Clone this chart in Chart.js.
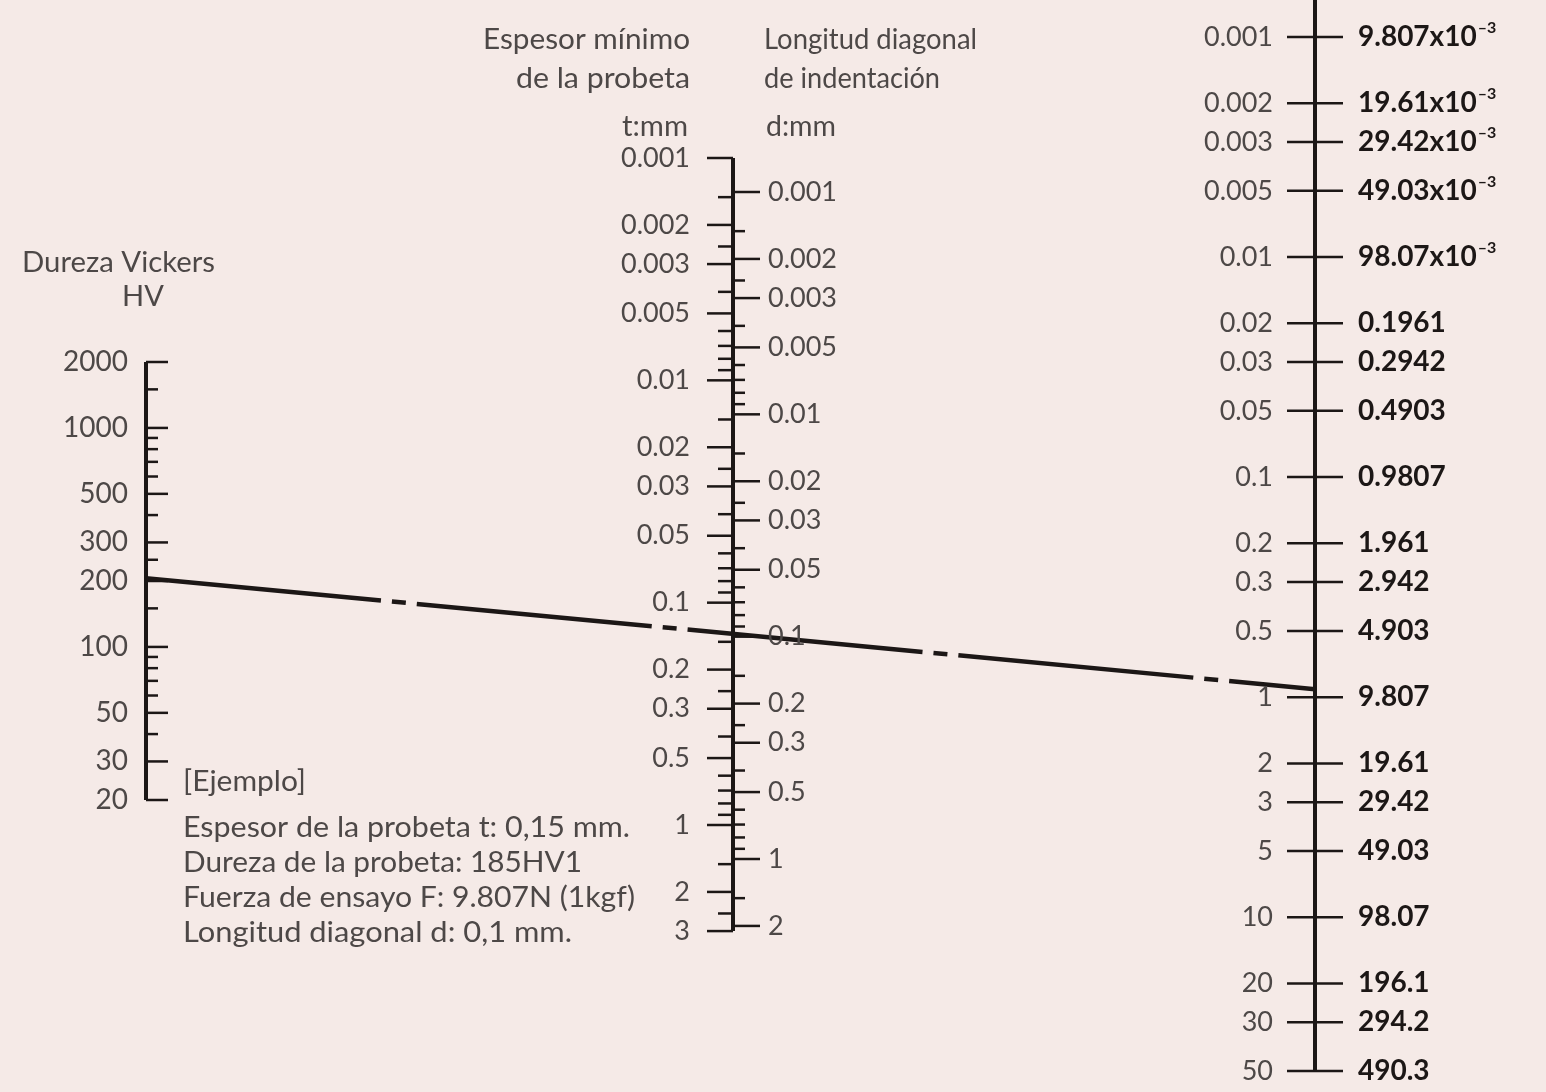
<!DOCTYPE html>
<html>
<head>
<meta charset="utf-8">
<script src="https://cdn.jsdelivr.net/npm/chart.js@4/dist/chart.umd.min.js"></script>
<style>
  html, body { margin: 0; padding: 0; background: #f5eae7; }
</style>
</head>
<body>
<canvas id="nomo" width="1546" height="1092"></canvas>
<script>
// Vickers nomogram: hardness HV / min. thickness t + diagonal d / test force F

const hvMajor = [2000, 1000, 500, 300, 200, 100, 50, 30, 20];
const hvMinor = [1500, 900, 800, 700, 600, 400, 250, 150, 90, 80, 70, 60, 40];

const tMajor = [0.001, 0.002, 0.003, 0.005, 0.01, 0.02, 0.03, 0.05, 0.1, 0.2, 0.3, 0.5, 1, 2, 3];
const tMinor = [0.0015, 0.0025, 0.004, 0.006, 0.007, 0.008, 0.009, 0.015, 0.025, 0.04, 0.06, 0.07, 0.08, 0.09,
  0.15, 0.25, 0.4, 0.6, 0.7, 0.8, 0.9, 1.5, 2.5];

const dMajor = [0.001, 0.002, 0.003, 0.005, 0.01, 0.02, 0.03, 0.05, 0.1, 0.2, 0.3, 0.5, 1, 2];
const dMinor = [0.0015, 0.0025, 0.004, 0.006, 0.007, 0.008, 0.009, 0.015, 0.025, 0.04, 0.06, 0.07, 0.08, 0.09,
  0.15, 0.25, 0.4, 0.6, 0.7, 0.8, 0.9, 1.5];

const forceKgf = [0.001, 0.002, 0.003, 0.005, 0.01, 0.02, 0.03, 0.05, 0.1, 0.2, 0.3, 0.5, 1, 2, 3, 5, 10, 20, 30, 50];
const forceN = ['9.807x10-3', '19.61x10-3', '29.42x10-3', '49.03x10-3', '98.07x10-3', '0.1961', '0.2942', '0.4903',
  '0.9807', '1.961', '2.942', '4.903', '9.807', '19.61', '29.42', '49.03', '98.07', '196.1', '294.2', '490.3'];

// example reading drawn across the chart (HV axis -> F axis)
const exampleHV = 206;
const exampleF = 0.92;

const exampleText = [
  '[Ejemplo]',
  'Espesor de la probeta t: 0,15 mm.',
  'Dureza de la probeta: 185HV1',
  'Fuerza de ensayo F: 9.807N (1kgf)',
  'Longitud diagonal d: 0,1 mm.'
];

const INK = '#1c1716';
const GREY = '#4d4847';
const BG = '#f5eae7';
const FONT = 'Lato, "Open Sans", sans-serif';

const X_HV = 146, X_MID = 733, X_F = 1315;
const H = 1092;

// log range that puts v1 at pixel y1 and v2 at pixel y2 over the full canvas height
function logRange(v1, y1, v2, y2, down) {
  const k = Math.abs(y2 - y1) / Math.abs(Math.log10(v2) - Math.log10(v1));
  const l1 = Math.log10(v1);
  if (down) return { reverse: true, min: 10 ** (l1 - y1 / k), max: 10 ** (l1 + (H - y1) / k) };
  return { reverse: false, min: 10 ** (l1 - (H - y1) / k), max: 10 ** (l1 + y1 / k) };
}

const hvRange = logRange(2000, 362, 20, 800, false);
const tRange = logRange(0.001, 158, 1, 825, true);
const dRange = logRange(0.001, 192, 1, 859, true);
const fRange = logRange(0.001, 37, 50, 1071, true);

function axisLine(yAxisID, x, from, to) {
  return {
    type: 'scatter', yAxisID, showLine: true,
    data: [{ x, y: from }, { x, y: to }],
    borderColor: INK, borderWidth: 4, pointRadius: 0
  };
}

function ticks(yAxisID, values, x, half) {
  return {
    type: 'scatter', yAxisID,
    data: values.map(v => ({ x, y: v })),
    pointStyle: 'line', pointRadius: half, pointBorderWidth: 2.5,
    borderColor: INK, backgroundColor: INK
  };
}

const datasets = [
  axisLine('yHV', X_HV, hvMajor[0], hvMajor[hvMajor.length - 1]),
  ticks('yHV', hvMajor, X_HV + 11, 11),
  ticks('yHV', hvMinor, X_HV + 6, 6),
  axisLine('yT', X_MID, tMajor[0], tMajor[tMajor.length - 1]),
  ticks('yT', tMajor, X_MID - 13, 13),
  ticks('yT', tMinor, X_MID - 7.5, 7.5),
  ticks('yD', dMajor, X_MID + 13.5, 13.5),
  ticks('yD', dMinor, X_MID + 6, 6),
  axisLine('yF', X_F, fRange.min, forceKgf[forceKgf.length - 1]),
  ticks('yF', forceKgf, X_F, 28)
];

function fitText(ctx, str, x, y, width, align) {
  const w = ctx.measureText(str).width;
  const s = width ? width / w : 1;
  ctx.save();
  ctx.translate(x, y);
  ctx.scale(s, 1);
  const dx = align === 'right' ? -w : align === 'center' ? -w / 2 : 0;
  ctx.textAlign = 'left';
  ctx.fillText(str, dx, 0);
  ctx.restore();
}

const background = {
  id: 'background',
  beforeDraw(chart) {
    const { ctx } = chart;
    ctx.save();
    ctx.fillStyle = BG;
    ctx.fillRect(0, 0, chart.width, chart.height);
    ctx.restore();
  }
};

const nomoLabels = {
  id: 'nomoLabels',
  afterDatasetsDraw(chart) {
    const { ctx, scales } = chart;
    const px = v => scales.x.getPixelForValue(v);
    ctx.save();
    ctx.textBaseline = 'middle';

    // example line
    ctx.strokeStyle = INK;
    ctx.lineWidth = 4.5;
    ctx.setLineDash([236, 11, 14, 11]);
    ctx.beginPath();
    ctx.moveTo(px(X_HV), scales.yHV.getPixelForValue(exampleHV));
    ctx.lineTo(px(X_F), scales.yF.getPixelForValue(exampleF));
    ctx.stroke();
    ctx.setLineDash([]);

    ctx.fillStyle = GREY;
    ctx.font = '28px ' + FONT;
    ctx.textAlign = 'right';
    hvMajor.forEach(v => ctx.fillText(String(v), px(X_HV - 18), scales.yHV.getPixelForValue(v)));

    ctx.font = '27px ' + FONT;
    tMajor.forEach(v => ctx.fillText(String(v), px(X_MID - 43), scales.yT.getPixelForValue(v)));
    forceKgf.forEach(v => ctx.fillText(String(v), px(X_F - 42), scales.yF.getPixelForValue(v)));
    ctx.textAlign = 'left';
    dMajor.forEach(v => ctx.fillText(String(v), px(X_MID + 35), scales.yD.getPixelForValue(v)));

    // force in newtons, bold, with superscript exponent
    ctx.fillStyle = INK;
    forceKgf.forEach((v, i) => {
      const y = scales.yF.getPixelForValue(v);
      const [base, exp] = forceN[i].split('x10');
      ctx.font = 'bold 28px ' + FONT;
      const main = exp ? base + 'x10' : base;
      ctx.fillText(main, px(X_F + 43), y);
      if (exp) {
        const w = ctx.measureText(main).width;
        ctx.font = 'bold 16px ' + FONT;
        ctx.fillText(exp.replace('-', '\u2013'), px(X_F + 44) + w, y - 9);
      }
    });

    // axis titles
    ctx.fillStyle = GREY;
    ctx.font = '29px ' + FONT;
    fitText(ctx, 'Dureza Vickers', 22, 263, 193, 'left');
    fitText(ctx, 'HV', 143, 297, 0, 'center');
    fitText(ctx, 'Espesor mínimo', 690, 40, 207, 'right');
    fitText(ctx, 'de la probeta', 690, 79, 174, 'right');
    fitText(ctx, 't:mm', 688, 127, 66, 'right');
    fitText(ctx, 'Longitud diagonal', 764, 40, 213, 'left');
    fitText(ctx, 'de indentación', 764, 79, 176, 'left');
    fitText(ctx, 'd:mm', 766, 127, 70, 'left');

    // example block
    const exW = [123, 447, 399, 452, 389];
    const exY = [782, 828, 863, 898, 933];
    ctx.font = '29px ' + FONT;
    exampleText.forEach((s, i) => fitText(ctx, s, 183, exY[i], exW[i], 'left'));
    ctx.restore();
  }
};

new Chart(document.getElementById('nomo'), {
  type: 'scatter',
  data: { datasets },
  options: {
    responsive: false,
    animation: false,
    events: [],
    layout: { padding: 0, autoPadding: false },
    plugins: { legend: { display: false }, tooltip: { enabled: false }, title: { display: false } },
    scales: {
      x: { type: 'linear', min: 0, max: 1546, display: false },
      yHV: { axis: 'y', type: 'logarithmic', display: false, bounds: 'data', ...hvRange },
      yT: { axis: 'y', type: 'logarithmic', display: false, bounds: 'data', ...tRange },
      yD: { axis: 'y', type: 'logarithmic', display: false, bounds: 'data', ...dRange },
      yF: { axis: 'y', type: 'logarithmic', display: false, bounds: 'data', ...fRange }
    }
  },
  plugins: [background, nomoLabels]
});
</script>
</body>
</html>
